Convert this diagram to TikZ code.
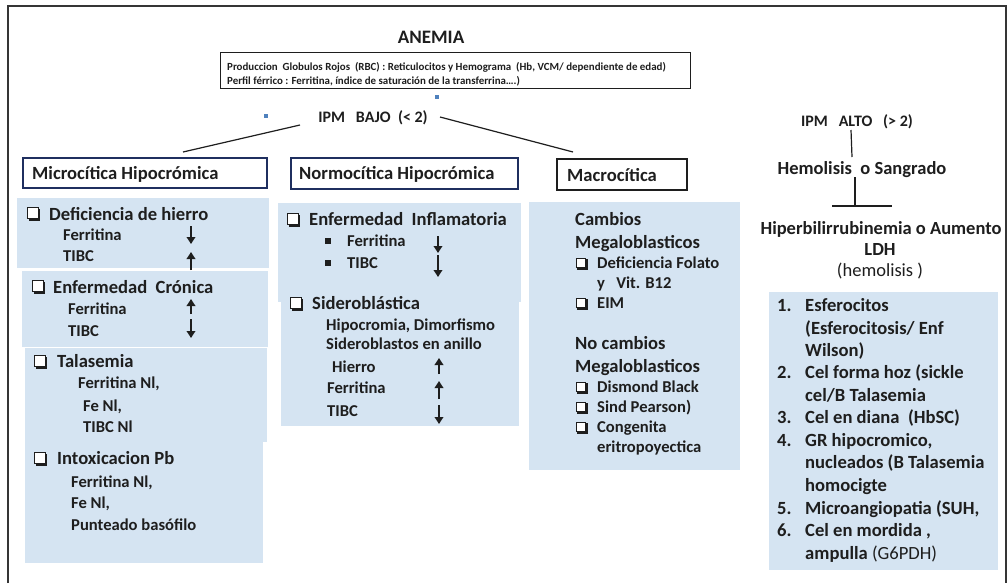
\documentclass[tikz,border=0pt]{standalone}
\usepackage{fontspec}
\setmainfont{Carlito}
\usetikzlibrary{arrows.meta}
\definecolor{panel}{RGB}{213,228,242}
\definecolor{navy}{RGB}{31,47,95}
\definecolor{ink}{RGB}{30,30,30}
\definecolor{dotblue}{RGB}{79,129,189}
\begin{document}
\begin{tikzpicture}[x=1pt,y=-1pt,
  t19/.style={anchor=base,inner sep=0pt,text=ink,font=\bfseries\fontsize{19}{22}\selectfont},
  t18/.style={anchor=base west,inner sep=0pt,text=ink,font=\bfseries\fontsize{18.6}{21}\selectfont},
  t16/.style={anchor=base west,inner sep=0pt,text=ink,font=\bfseries\fontsize{16.6}{19}\selectfont},
  t16c/.style={anchor=base,inner sep=0pt,text=ink,font=\bfseries\fontsize{16}{19}\selectfont},
  t18c/.style={anchor=base,inner sep=0pt,text=ink,font=\bfseries\fontsize{18.5}{21}\selectfont},
  tsm/.style={anchor=base west,inner sep=0pt,text=ink,font=\bfseries\fontsize{10.9}{12}\selectfont},
  tli/.style={anchor=base west,inner sep=0pt,text=ink,font=\bfseries\fontsize{18.6}{21}\selectfont},
  pnl/.style={fill=panel,draw=none},
  hbox/.style={draw=navy,line width=2pt,fill=white},
  arr/.style={line width=2.6pt,ink,-{Triangle[length=7pt,width=8.5pt]}},
  conn/.style={line width=1.2pt,ink},
  cbx/.pic={\draw[ink,line width=1pt,fill=white] (0,-5.5) rectangle (11,5.5);
            \fill[ink] (1.5,5.5) rectangle (13,7.8);
            \fill[ink] (11,-4) rectangle (13,7.8);},
  bul/.pic={\fill[ink] (0,-3) rectangle (6,3);}
]
\useasboundingbox (0,0) rectangle (1008,583);
\fill[white] (0,0) rectangle (1008,583);
% frame
\draw[line width=2pt,color=ink!90] (8,583) -- (8,6) -- (1006,6) -- (1006,583);

% top
\node[t19] (anemia) at (431,44) {ANEMIA};
\draw[line width=1pt,ink] (220,53) rectangle (690,89);
\node[tsm] (l1) at (227,71) {Produccion~ Globulos Rojos~ (RBC) : Reticulocitos y Hemograma~ (Hb, VCM/ dependiente de edad)};
\node[tsm] (l2) at (227,85) {Perfil férrico : Ferritina, índice de saturación de la transferrina….)};
\fill[dotblue] (435,95) rectangle (439,99);
\fill[dotblue] (264,114) rectangle (268,118);

\node[t16c] (ipmb) at (373,122) {IPM~~ BAJO~ (< 2)};
\coordinate (bl) at (300,125);
\coordinate (blend) at (183,152);
\coordinate (br) at (440,117);
\coordinate (brend) at (573,152);
\draw[conn] (bl) -- (blend);
\draw[conn] (br) -- (brend);

% headers
\draw[hbox] (23,158) rectangle (267,188);
\node[t18] (micro) at (32,179) {Microcítica Hipocrómica};
\draw[hbox] (291,158) rectangle (518,189);
\node[t18] (normo) at (299,179) {Normocítica Hipocrómica};
\draw[line width=1.6pt,ink,fill=white] (557,159) rectangle (687,190);
\node[t18] (macro) at (567,181) {Macrocítica};

% micro panels
\fill[pnl] (17,198) rectangle (269,268);
\fill[pnl] (22,271) rectangle (268,347);
\fill[pnl] (25,348) rectangle (267,442);
\fill[pnl] (25,442) rectangle (263,563);

\pic at (27,213) {cbx};
\node[t18] (d1) at (49,220) {Deficiencia de hierro};
\node[t16] (d2) at (63,240) {Ferritina};
\node[t16] (d3) at (63,261) {TIBC};
\draw[arr] (191,226) -- (191,244);
\draw[arr] (191,270) -- (191,252);

\pic at (32,286) {cbx};
\node[t18] (e1) at (53,293) {Enfermedad~ Crónica};
\node[t16] (e2) at (68,314) {Ferritina};
\node[t16] (e3) at (68,336) {TIBC};
\draw[arr] (191,314) -- (191,299);
\draw[arr] (191,319) -- (191,338);

\pic at (34,361) {cbx};
\node[t18] (ta1) at (57,367) {Talasemia};
\node[t16] (ta2) at (78,388) {Ferritina Nl,};
\node[t16] (ta3) at (83,411) {Fe Nl,};
\node[t16] (ta4) at (83,432) {TIBC Nl};

\pic at (34,458) {cbx};
\node[t18] (ip1) at (57,464) {Intoxicacion Pb};
\node[t16] (ip2) at (71,487) {Ferritina Nl,};
\node[t16] (ip3) at (71,508) {Fe Nl,};
\node[t16] (ip4) at (71,530) {Punteado basófilo};

% normo panels
\fill[pnl] (278,203) rectangle (521,302);
\fill[pnl] (281,302) rectangle (519,426);
\pic at (287,219) {cbx};
\node[t18] (n1) at (309,225) {Enfermedad~ Inflamatoria};
\pic at (325,241) {bul};
\node[t16] (n2) at (347,246) {Ferritina};
\pic at (325,263) {bul};
\node[t16] (n3) at (347,268) {TIBC};
\draw[arr] (438,236) -- (438,253);
\draw[arr] (438,255) -- (438,277);

\pic at (290,303) {cbx};
\node[t18] (s1) at (312,309) {Sideroblástica};
\node[t16] (s2) at (326,330) {Hipocromia, Dimorfismo};
\node[t16] (s3) at (326,349) {Sideroblastos en anillo};
\node[t16] (s4) at (332,372) {Hierro};
\node[t16] (s5) at (327,393) {Ferritina};
\node[t16] (s6) at (327,416) {TIBC};
\draw[arr] (439,374) -- (439,358);
\draw[arr] (439,399) -- (439,381);
\draw[arr] (439,405) -- (439,424);

% macro panel
\fill[pnl] (529,202) rectangle (740,470);
\node[t18] (m1) at (575,225) {Cambios};
\node[t18] (m2) at (575,248) {Megaloblasticos};
\pic[scale=0.9] at (576,263) {cbx};
\node[t16] (m3) at (597,268) {Deficiencia Folato};
\node[t16] (m4) at (597,288) {y~~ Vit. B12};
\pic[scale=0.9] at (576,303) {cbx};
\node[t16] (m5) at (597,308) {EIM};
\node[t18] (m6) at (575,349) {No cambios};
\node[t18] (m7) at (575,372) {Megaloblasticos};
\pic[scale=0.9] at (576,387) {cbx};
\node[t16] (m8) at (597,392) {Dismond Black};
\pic[scale=0.9] at (576,407) {cbx};
\node[t16] (m9) at (597,412) {Sind Pearson)};
\pic[scale=0.9] at (576,427) {cbx};
\node[t16] (m10) at (597,432) {Congenita};
\node[t16] (m11) at (597,452) {eritropoyectica};

% right tree
\node[t16c] (ipma) at (857,127) {IPM~~ ALTO~~ (> 2)};
\node[t18c] (hemo) at (862,174) {Hemolisis~ o Sangrado};
\coordinate (a1) at (851,130);
\coordinate (a2) at (852,157);
\coordinate (h1) at (855,177);
\coordinate (h2) at (855,206);
\coordinate (hl) at (832,206);
\coordinate (hr) at (892,206);
\draw[conn] (a1) -- (a2);
\draw[conn] (h1) -- (h2);
\draw[conn] (hl) -- (hr);
\node[t18c] (hip) at (881,234) {Hiperbilirrubinemia o Aumento};
\node[t18c] (ldh) at (880,255) {LDH};
\node[anchor=base,inner sep=0pt,text=ink,font=\fontsize{18.5}{21}\selectfont] (hem) at (880,276) {(hemolisis )};

\fill[pnl] (769,292) rectangle (998,570);
\foreach \n/\y in {1./311,2./378,3./423,4./446,5./514,6./536}{
  \node[tli] at (777,\y) {\n};
}
\node[tli] (r1) at (805,311) {Esferocitos};
\node[tli] (r2) at (805,334) {(Esferocitosis/ Enf};
\node[tli] (r3) at (805,356) {Wilson)};
\node[tli] (r4) at (805,378) {Cel forma hoz (sickle};
\node[tli] (r5) at (805,401) {cel/B Talasemia};
\node[tli] (r6) at (805,423) {Cel en diana~ (HbSC)};
\node[tli] (r7) at (805,446) {GR hipocromico,};
\node[tli] (r8) at (805,468) {nucleados (B Talasemia};
\node[tli] (r9) at (805,491) {homocigte};
\node[tli] (r10) at (805,514) {Microangiopatia (SUH,};
\node[tli] (r11) at (805,536) {Cel en mordida ,};
\node[tli] (r12) at (805,559) {ampulla {\mdseries(G6PDH)}};
\end{tikzpicture}
\end{document}
